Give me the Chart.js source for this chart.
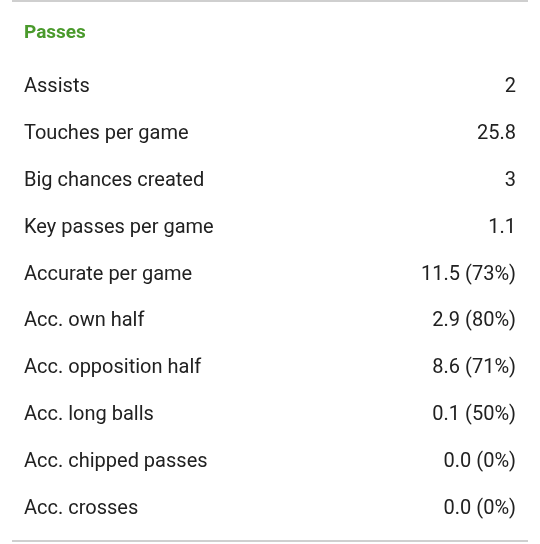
<!DOCTYPE html>
<html><head><meta charset="utf-8">
<script src="https://cdn.jsdelivr.net/npm/chart.js@4"></script>
<style>
html,body{margin:0;padding:0;background:#fff;}
#wrap{position:relative;width:540px;height:544px;}
#title{position:absolute;left:24px;top:20px;font:bold 19px Roboto,sans-serif;color:#4a9a2c;}
.ln{position:absolute;left:12px;width:516px;height:2px;background:#cfcfcf;}
</style></head><body>
<div id="wrap">
<div class="ln" style="top:0"></div>
<div id="title">Passes</div>
<canvas id="c" width="540" height="544"></canvas>
<div class="ln" style="top:540px"></div>
</div>
<script>
const categories = ["Assists","Touches per game","Big chances created","Key passes per game","Accurate per game","Acc. own half","Acc. opposition half","Acc. long balls","Acc. chipped passes","Acc. crosses"];
const values = [2,25.8,3,1.1,11.5,2.9,8.6,0.1,0.0,0.0];
const valueLabels = ["2","25.8","3","1.1","11.5 (73%)","2.9 (80%)","8.6 (71%)","0.1 (50%)","0.0 (0%)","0.0 (0%)"];
const font = {family:"Roboto", size:20};
new Chart(document.getElementById('c'), {
  type:'bar',
  data:{labels:categories, datasets:[{data:values, backgroundColor:'rgba(0,0,0,0)'}]},
  options:{
    indexAxis:'y', responsive:false, animation:false,
    layout:{padding:{top:64,bottom:0,left:24,right:24}},
    plugins:{legend:{display:false},tooltip:{enabled:false}},
    scales:{
      x:{display:false},
      y:{position:'left',grid:{display:false},border:{display:false},
         afterFit:s=>{s.width=300;},
         ticks:{crossAlign:'far',color:'#212121',font,padding:0}},
      y2:{type:'category',labels:valueLabels,position:'right',offset:true,grid:{display:false},border:{display:false},
         afterFit:s=>{s.width=180;},
         ticks:{crossAlign:'far',color:'#212121',font,padding:0}}
    }
  }
});
</script>
</body></html>
